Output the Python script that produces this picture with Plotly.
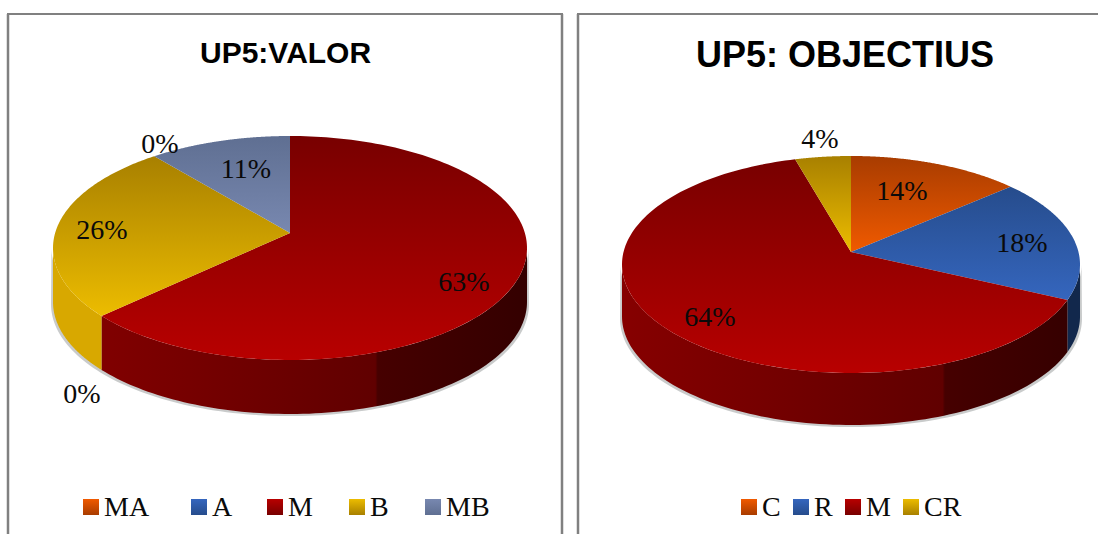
import numpy as np
import plotly.graph_objects as go

# ---- data ----
valor_labels = ["MA", "A", "M", "B", "MB"]
valor_values = [0, 0, 63, 26, 11]
objectius_labels = ["C", "R", "M", "CR"]
objectius_values = [13.6, 18.4, 63.6, 4.4]

# ---- style: (top-face far colour, top-face near colour, wall left, wall right) ----
STYLE = {
    "MA": ("#a83c00", "#f05a00", "#8a3000", "#5a2000"),
    "C": ("#a83c00", "#f05a00", "#8a3000", "#5a2000"),
    "A": ("#264c8c", "#3566be", "#1e3a6a", "#12284c"),
    "R": ("#264c8c", "#3566be", "#1e3a6a", "#12284c"),
    "M": ("#780000", "#b80000", "#860000", "#340000"),
    "B": ("#a88000", "#ecbc00", "#d8a800", "#8a6c00"),
    "CR": ("#a88000", "#ecbc00", "#d8a800", "#8a6c00"),
    "MB": ("#5f6f92", "#7888b0", "#55637f", "#3d4960"),
}
SERIF = "Liberation Serif, Times New Roman, serif"
SANS = "Liberation Sans, Arial, sans-serif"

# ---- layout constants (pixels on a page-sized axis) ----
PANELS = [
    dict(cx=290, cy=233, a=237, up=97, down=127, depth=54, wall_break=0.68,
         labels=valor_labels, values=valor_values,
         text_xy=[(160, 146), (82, 396), (464, 284), (102, 232), (246, 171)],
         swatch_x=[91, 199, 275, 357, 433], text_x=[104, 212, 288, 370, 446],
         title="UP5:VALOR", title_x=285, title_y=52, title_size=30),
    dict(cx=851, cy=252, a=229, up=96, down=121, depth=52, wall_break=0.70,
         labels=objectius_labels, values=objectius_values,
         text_xy=[(902, 193), (1022, 245), (710, 319), (820, 141)],
         swatch_x=[749, 801, 853, 911], text_x=[762, 814, 866, 924],
         title="UP5: OBJECTIUS", title_x=845, title_y=54, title_size=36),
]
SWATCH_Y = 507
LEGEND_Y = 509


def rim(p, theta):
    """Perspective projection of a rim point; theta clockwise from 12 o'clock."""
    k = (p["down"] - p["up"]) / (p["down"] + p["up"])
    B = p["up"] * (1 + k)
    A = p["a"] * np.sqrt(1 - k * k)
    u, v = np.sin(theta), np.cos(theta)
    w = 1 + k * v
    return p["cx"] + A * u / w, p["cy"] - B * v / w


def front_range(p):
    k = (p["down"] - p["up"]) / (p["down"] + p["up"])
    return np.pi / 2 + np.arcsin(k), 3 * np.pi / 2 - np.arcsin(k)


fig = go.Figure()

for p in PANELS:
    total = sum(p["values"])
    edges = np.concatenate([[0], np.cumsum(p["values"])]) / total * 2 * np.pi
    f0, f1 = front_range(p)
    left, right = p["cx"] - p["a"], p["cx"] + p["a"]

    # soft grey edge beneath the wall
    th = np.linspace(f0, f1, 120)
    xs, ys = rim(p, th)
    fig.add_trace(go.Scatter(
        x=np.r_[xs + 1.5 * np.sign(xs - p["cx"]), (xs + 2 * np.sign(xs - p["cx"]))[::-1]],
        y=np.r_[ys, (ys + p["depth"] + 2)[::-1]],
        fill="toself", fillcolor="rgba(120,125,125,0.4)", mode="none",
        hoverinfo="skip", showlegend=False))

    # walls
    for i, name in enumerate(p["labels"]):
        a0, a1 = max(edges[i], f0), min(edges[i + 1], f1)
        if a1 <= a0:
            continue
        th = np.linspace(a0, a1, 100)
        xs, ys = rim(p, th)
        s = STYLE[name]
        mid_l = "#600000" if name == "M" else s[2]
        mid_r = "#460000" if name == "M" else s[3]
        brk = p["wall_break"]
        fig.add_trace(go.Scatter(
            x=np.r_[xs, xs[::-1]], y=np.r_[ys, (ys + p["depth"])[::-1]],
            fill="toself", mode="none", hoverinfo="skip", showlegend=False,
            fillgradient=dict(
                type="horizontal", start=left, stop=right,
                colorscale=[[0, s[2]], [brk, mid_l], [brk + 0.005, mid_r], [1, s[3]]])))

    # top face wedges: each shades from its far edge to its near edge
    for i, name in enumerate(p["labels"]):
        if p["values"][i] == 0:
            continue
        th = np.linspace(edges[i], edges[i + 1], 160)
        xs, ys = rim(p, th)
        wx = np.r_[p["cx"], xs, p["cx"]]
        wy = np.r_[p["cy"], ys, p["cy"]]
        s = STYLE[name]
        fig.add_trace(go.Scatter(
            x=wx, y=wy, fill="toself", mode="none", name=name, showlegend=False,
            hovertemplate=f"{name}: {p['values'][i]}%<extra></extra>",
            fillgradient=dict(type="vertical", start=float(wy.min()), stop=float(wy.max()),
                              colorscale=[[0, s[0]], [1, s[1]]])))

    # percentage labels
    fig.add_trace(go.Scatter(
        x=[xy[0] for xy in p["text_xy"]], y=[xy[1] for xy in p["text_xy"]],
        mode="text", text=[f"{round(v)}%" for v in p["values"]],
        textposition="middle center",
        textfont=dict(family=SERIF, size=28, color="#0a0a0a"),
        hoverinfo="skip", showlegend=False))

    # legend row
    fig.add_trace(go.Scatter(
        x=p["swatch_x"], y=[SWATCH_Y] * len(p["labels"]), mode="markers",
        marker=dict(symbol="square", size=16,
                    color=[STYLE[n][1] for n in p["labels"]],
                    gradient=dict(type="vertical", color=[STYLE[n][0] for n in p["labels"]]),
                    line=dict(width=0)),
        hoverinfo="skip", showlegend=False))
    fig.add_trace(go.Scatter(
        x=p["text_x"], y=[LEGEND_Y] * len(p["labels"]), mode="text",
        text=p["labels"], textposition="middle right",
        textfont=dict(family=SERIF, size=28, color="#0a0a0a"),
        hoverinfo="skip", showlegend=False))

shapes = []
for x in (8, 562, 578):
    shapes.append(dict(type="line", xref="x", yref="y", x0=x, x1=x, y0=14, y1=534,
                       line=dict(color="#808080", width=2.5)))
shapes.append(dict(type="line", xref="x", yref="y", x0=7, x1=563, y0=14, y1=14,
                   line=dict(color="#808080", width=2)))
shapes.append(dict(type="line", xref="x", yref="y", x0=577, x1=1098, y0=14, y1=14,
                   line=dict(color="#808080", width=2)))

annotations = [dict(xref="x", yref="y", x=p["title_x"], y=p["title_y"], text=f"<b>{p['title']}</b>",
                    showarrow=False, font=dict(family=SANS, size=p["title_size"], color="#000000"))
               for p in PANELS]

fig.update_layout(
    width=1098, height=534, margin=dict(l=0, r=0, t=0, b=0),
    paper_bgcolor="white", plot_bgcolor="white", showlegend=False,
    shapes=shapes, annotations=annotations,
    xaxis=dict(range=[0, 1098], visible=False, fixedrange=True),
    yaxis=dict(range=[534, 0], visible=False, fixedrange=True),
)
fig.write_html("out.html", config=dict(displayModeBar=False),
               post_script="document.body.style.margin='0';document.documentElement.style.overflow='hidden';")
